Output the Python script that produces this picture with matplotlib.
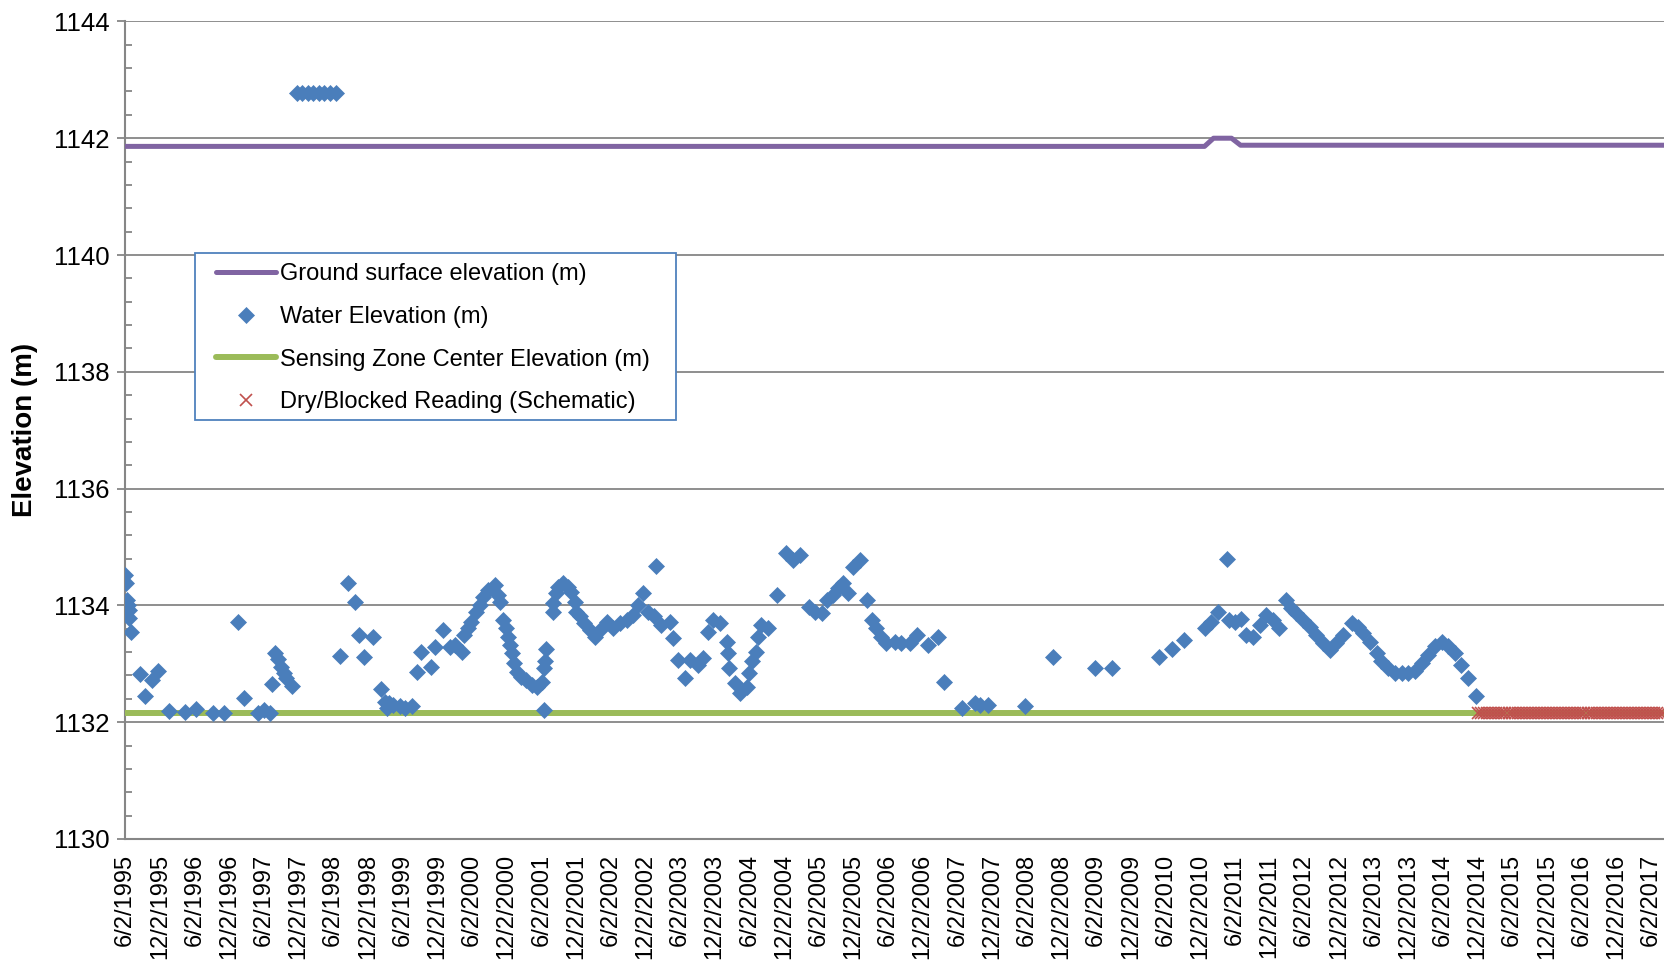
import numpy as np
import pandas as pd
import matplotlib
matplotlib.use("Agg")
import matplotlib.pyplot as plt
import matplotlib.dates as mdates
from matplotlib.ticker import FuncFormatter, MultipleLocator
from matplotlib.patches import Rectangle

plt.rcParams['font.family'] = ['Liberation Sans', 'DejaVu Sans']

# water elevation readings (decimal year, m)
water_t = [1995.42, 1995.43, 1995.45, 1995.46, 1995.47, 1995.48, 1995.50, 1995.63, 1995.70, 1995.80,
           1995.89, 1996.05, 1996.28, 1996.44, 1996.69, 1996.84, 1997.04, 1997.13, 1997.33, 1997.42,
           1997.50, 1997.54, 1997.58, 1997.62, 1997.67, 1997.70, 1997.74, 1997.82,
           1997.89, 1997.97, 1998.05, 1998.13, 1998.21, 1998.29, 1998.37, 1998.45,
           1998.51, 1998.63, 1998.73, 1998.79, 1998.86, 1998.99, 1999.10, 1999.16, 1999.19, 1999.22,
           1999.28, 1999.38, 1999.45, 1999.55, 1999.62, 1999.69, 1999.83, 1999.88, 2000.00, 2000.10,
           2000.18, 2000.27, 2000.31, 2000.36, 2000.41, 2000.48, 2000.53, 2000.58, 2000.65, 2000.75,
           2000.79, 2000.82, 2000.86, 2000.91, 2000.94, 2000.97, 2001.00, 2001.03, 2001.07, 2001.13,
           2001.20, 2001.28, 2001.35, 2001.42, 2001.45, 2001.46, 2001.47, 2001.49, 2001.58, 2001.59,
           2001.63, 2001.66, 2001.73, 2001.80, 2001.85, 2001.90, 2001.92, 2001.97, 2002.04, 2002.12,
           2002.19, 2002.26, 2002.36, 2002.45, 2002.55, 2002.65, 2002.74, 2002.81, 2002.89, 2002.96,
           2003.04, 2003.07, 2003.15, 2003.27, 2003.32, 2003.39, 2003.49, 2003.56, 2003.68, 2003.75,
           2003.82, 2003.89, 2003.99, 2004.09, 2004.11, 2004.13, 2004.21, 2004.28, 2004.38, 2004.41,
           2004.45, 2004.51, 2004.54, 2004.59, 2004.69, 2004.82, 2004.95, 2005.05, 2005.14, 2005.28,
           2005.36, 2005.46, 2005.53, 2005.62, 2005.70, 2005.76, 2005.84, 2005.91, 2006.01, 2006.11,
           2006.18, 2006.25, 2006.32, 2006.39, 2006.51, 2006.61, 2006.73, 2006.83, 2006.99, 2007.14,
           2007.23, 2007.48, 2007.67, 2007.74, 2007.86, 2008.40, 2008.80, 2009.40, 2009.65, 2010.32,
           2010.51, 2010.69, 2010.98, 2011.08, 2011.17, 2011.30, 2011.34, 2011.42, 2011.51, 2011.58,
           2011.68, 2011.78, 2011.87, 2011.97, 2012.06, 2012.16, 2012.23, 2012.30, 2012.40, 2012.50,
           2012.59, 2012.69, 2012.79, 2012.88, 2012.98, 2013.10, 2013.19, 2013.27, 2013.36, 2013.46,
           2013.53, 2013.63, 2013.72, 2013.82, 2013.92, 2014.01, 2014.11, 2014.20, 2014.30, 2014.40,
           2014.49, 2014.59, 2014.68, 2014.78, 2014.90]
water_elev = [1134.52, 1134.39, 1134.09, 1134.01, 1133.92, 1133.78, 1133.55, 1132.82, 1132.45, 1132.73,
              1132.88, 1132.19, 1132.18, 1132.22, 1132.15, 1132.15, 1133.72, 1132.41, 1132.16, 1132.20,
              1132.16, 1132.65, 1133.18, 1133.09, 1132.95, 1132.84, 1132.75, 1132.62,
              1142.77, 1142.77, 1142.77, 1142.77, 1142.77, 1142.77, 1142.77, 1142.77,
              1133.14, 1134.39, 1134.05, 1133.50, 1133.12, 1133.46, 1132.56, 1132.35, 1132.24, 1132.32,
              1132.29, 1132.27, 1132.24, 1132.27, 1132.86, 1133.21, 1132.95, 1133.29, 1133.57, 1133.29,
              1133.33, 1133.21, 1133.49, 1133.61, 1133.72, 1133.89, 1134.01, 1134.15, 1134.26, 1134.35,
              1134.18, 1134.06, 1133.75, 1133.61, 1133.46, 1133.32, 1133.18, 1133.01, 1132.86, 1132.78,
              1132.72, 1132.64, 1132.61, 1132.69, 1132.93, 1132.21, 1133.04, 1133.25, 1133.89, 1134.04,
              1134.21, 1134.32, 1134.38, 1134.32, 1134.23, 1134.06, 1133.89, 1133.81, 1133.69, 1133.58,
              1133.46, 1133.58, 1133.72, 1133.61, 1133.69, 1133.75, 1133.84, 1134.01, 1134.21, 1133.89,
              1133.82, 1134.67, 1133.67, 1133.72, 1133.44, 1133.07, 1132.76, 1133.07, 1132.98, 1133.10,
              1133.55, 1133.75, 1133.69, 1133.38, 1133.18, 1132.93, 1132.67, 1132.50, 1132.61, 1132.84,
              1133.04, 1133.21, 1133.46, 1133.67, 1133.61, 1134.18, 1134.90, 1134.78, 1134.87, 1133.98,
              1133.89, 1133.87, 1134.09, 1134.18, 1134.29, 1134.39, 1134.21, 1134.66, 1134.78, 1134.09,
              1133.75, 1133.61, 1133.46, 1133.35, 1133.38, 1133.35, 1133.35, 1133.49, 1133.32, 1133.46,
              1132.69, 1132.25, 1132.32, 1132.30, 1132.30, 1132.27, 1133.12, 1132.93, 1132.93, 1133.12,
              1133.25, 1133.41, 1133.61, 1133.72, 1133.89, 1134.79, 1133.75, 1133.72, 1133.77, 1133.49,
              1133.46, 1133.66, 1133.84, 1133.75, 1133.61, 1134.09, 1133.95, 1133.87, 1133.75, 1133.63,
              1133.49, 1133.35, 1133.24, 1133.35, 1133.49, 1133.69, 1133.63, 1133.52, 1133.38, 1133.18,
              1133.04, 1132.93, 1132.84, 1132.84, 1132.84, 1132.87, 1133.01, 1133.15, 1133.30, 1133.38,
              1133.30, 1133.18, 1132.98, 1132.76, 1132.45]

# ground surface elevation
ground_t = [1995.42, 2010.98, 2011.11, 2011.37, 2011.50, 2017.62]
ground_elev = [1141.86, 1141.86, 1142.00, 1142.00, 1141.88, 1141.88]

# sensing zone centre
sensor_t = [1995.42, 2017.62]
sensor_elev = [1132.15, 1132.15]

# dry / blocked readings (schematic, plotted at sensing zone)
dry_start, dry_end = '2014-12-05', '2017-08-10'
dry_elev = 1132.15


def to_date(t):
    t = np.atleast_1d(t)
    out = []
    for v in t:
        y = int(v)
        out.append(pd.Timestamp(f'{y}-01-01') + pd.Timedelta(days=(v - y) * 365.25))
    return pd.to_datetime(out)


fig = plt.figure(figsize=(16.65, 9.65), dpi=100)
ax = fig.add_axes([0.0751, 0.1306, 0.9249, 0.8472])

grid_c = '#868686'
l_ground, = ax.plot(to_date(ground_t), ground_elev, color='#8064A2', lw=3.6,
                    solid_capstyle='round', zorder=3, label='Ground surface elevation (m)')
l_sensor, = ax.plot(to_date(sensor_t), sensor_elev, color='#9BBB59', lw=4.3,
                    solid_capstyle='round', zorder=3, label='Sensing Zone Center Elevation (m)')
l_water, = ax.plot(to_date(water_t), water_elev, ls='none', marker='D', ms=8.2,
                   color='#4A7EBB', mec='#4A7EBB', mew=0.5, zorder=4, label='Water Elevation (m)')
dry_dates = pd.date_range(dry_start, dry_end, freq='16D')
l_dry, = ax.plot(dry_dates, [dry_elev] * len(dry_dates), ls='none', marker='x', ms=8.5,
                 mew=1.2, color='#C0504D', zorder=5, label='Dry/Blocked Reading (Schematic)')

ax.set_ylim(1130, 1144)
ax.set_xlim(pd.Timestamp('1995-06-02'), pd.Timestamp('2017-08-15'))
ax.yaxis.set_major_locator(MultipleLocator(2))
ax.yaxis.set_minor_locator(MultipleLocator(0.4))
ax.grid(axis='y', which='major', color=grid_c, lw=1.3, zorder=1)
ax.set_axisbelow(True)

ax.xaxis.set_major_locator(mdates.MonthLocator(bymonth=(6, 12), bymonthday=2))
ax.xaxis.set_major_formatter(FuncFormatter(
    lambda x, pos: (lambda d: f'{d.month}/{d.day}/{d.year}')(mdates.num2date(x))))
ax.tick_params(axis='x', length=0, pad=11, labelsize=17, rotation=90)
ax.tick_params(axis='y', which='major', direction='out', length=6, width=1.3,
               color=grid_c, labelsize=18.5, pad=5)
ax.tick_params(axis='y', which='minor', direction='in', length=5, width=1.3, color=grid_c)

for s in ['top', 'right']:
    ax.spines[s].set_visible(False)
for s in ['left', 'bottom']:
    ax.spines[s].set_color(grid_c)
    ax.spines[s].set_linewidth(1.5)

fig.text(25 / 1665, 1 - 430 / 965, 'Elevation (m)', rotation=90, fontsize=20,
         fontweight='bold', ha='center', va='center')

# legend box
fig.patches.append(Rectangle((195 / 1665, 1 - 420 / 965), 481 / 1665, 167 / 965,
                             transform=fig.transFigure, facecolor='white',
                             edgecolor='#4F81BD', lw=1.3, zorder=4))
leg = fig.legend(handles=[l_ground, l_water, l_sensor, l_dry], loc='upper left',
                 bbox_to_anchor=(216 / 1665, 1 - 263 / 965), frameon=False, fontsize=17,
                 borderpad=0, handlelength=2.55, handletextpad=0.15, labelspacing=0.88,
                 borderaxespad=0)
leg.set_zorder(5)

fig.savefig('out.png', dpi=100)
